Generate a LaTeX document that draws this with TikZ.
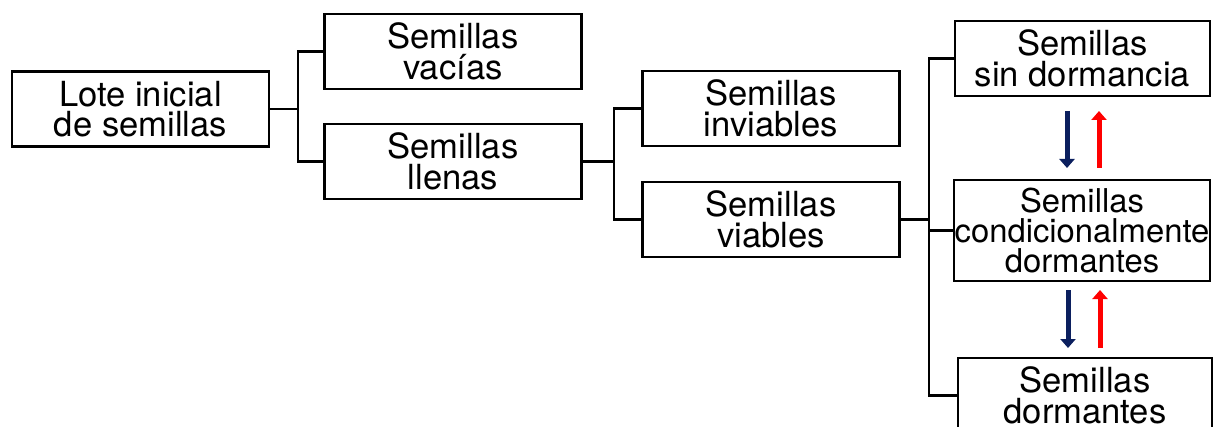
\documentclass[tikz,border=0pt]{standalone}
\usepackage{fontspec}
\setmainfont{TeX Gyre Heros}
\usetikzlibrary{arrows.meta,calc}
\definecolor{downblue}{HTML}{0B1F5E}
\definecolor{upred}{HTML}{FF0000}
\tikzset{
  box/.style={draw, line width=1.1pt, rectangle, minimum width=128.5pt,
    minimum height=37.5pt, align=center, inner sep=0pt,
    font=\fontsize{17.3}{15.2}\selectfont},
  link/.style={line width=1.1pt},
  flowdown/.style={line width=2.5pt, draw=downblue,
    -{Triangle[width=7.5pt,length=4.5pt]}},
  flowup/.style={line width=2.5pt, draw=upred,
    -{Triangle[width=7.5pt,length=4.5pt]}},
}
\begin{document}
\begin{tikzpicture}[x=0.5pt,y=-0.5pt]
\useasboundingbox (0,0) rectangle (1213,427);
\clip (0,0) rectangle (1213,427);

% boxes
\node[box] (lote)  at (140.5,109)  {Lote inicial\\de semillas};
\node[box] (vac)   at (453,51.5)   {Semillas\\vacías};
\node[box] (llen)  at (453,161.5)  {Semillas\\llenas};
\node[box] (inv)   at (771,108.5)  {Semillas\\inviables};
\node[box] (via)   at (771,219.5)  {Semillas\\viables};
\node[box, minimum width=127.5pt] (sind) at (1082.5,58.5) {Semillas\\sin dormancia};
\node[box, minimum width=128pt, minimum height=50.5pt,
  font=\fontsize{16.4}{14.9}\selectfont] (cond) at (1082,230.5)
  {Semillas\\condicionalmente\\dormantes};
\node[box, minimum width=127pt] (dorm) at (1085,395.5) {Semillas\\dormantes};

% branching points, level with the parent box
\coordinate (f1) at ($(lote.east)+(28,0)$);
\coordinate (f2) at ($(llen.east)+(31,0)$);
\coordinate (f3) at ($(via.east)+(28,0)$);

% tree connectors
\draw[link] (lote.east) -- (f1);
\draw[link] (vac.west) -| (f1) |- (llen.west);
\draw[link] (llen.east) -- (f2);
\draw[link] (inv.west) -| (f2) |- (via.west);
\draw[link] (via.east) -- (f3);
\draw[link] (sind.west) -| (f3) |- (dorm.west);
\draw[link] (cond.west -| f3) -- (cond.west);

% transitions between dormancy states
\coordinate (d1s) at (1067,111);  \coordinate (d1e) at (1067,168);
\coordinate (u1s) at (1099,168);  \coordinate (u1e) at (1099,111);
\coordinate (d2s) at (1068,290);  \coordinate (d2e) at (1068,348);
\coordinate (u2s) at (1100,348);  \coordinate (u2e) at (1100,290);
\draw[flowdown] (d1s) -- (d1e);
\draw[flowup]   (u1s) -- (u1e);
\draw[flowdown] (d2s) -- (d2e);
\draw[flowup]   (u2s) -- (u2e);
\end{tikzpicture}
\end{document}
